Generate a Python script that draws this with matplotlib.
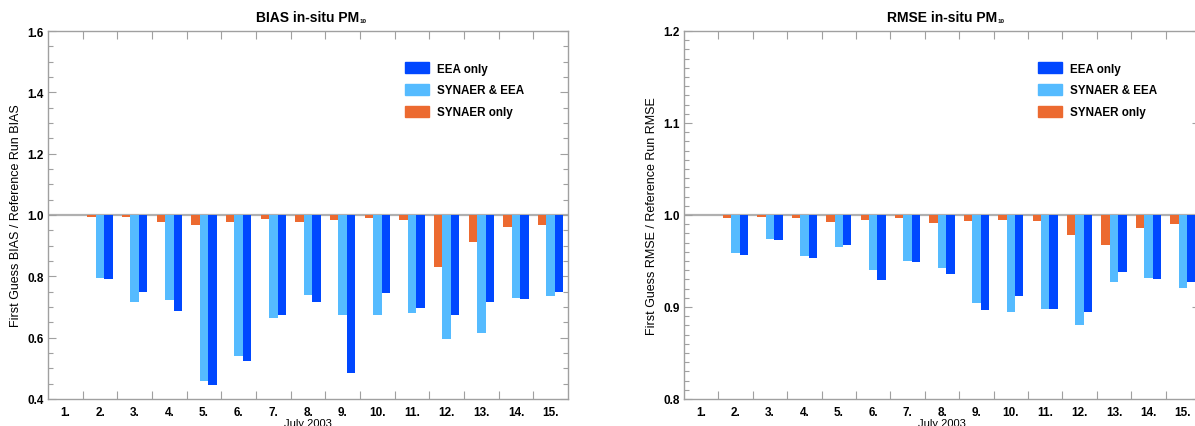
import matplotlib
matplotlib.use('Agg')
import matplotlib.pyplot as plt
import matplotlib.patches as mpatches
from matplotlib.ticker import MultipleLocator, FixedLocator
import numpy as np

plt.rcParams['font.family'] = ['Liberation Sans', 'DejaVu Sans']

days = ['1.', '2.', '3.', '4.', '5.', '6.', '7.', '8.', '9.', '10.', '11.', '12.', '13.', '14.', '15.']

# BIAS ratios (first guess / reference run)
bias_synaer = [1.0, 0.992, 0.993, 0.978, 0.968, 0.976, 0.988, 0.978, 0.985, 0.990, 0.985, 0.832, 0.911, 0.960, 0.968]
bias_both = [1.0, 0.795, 0.715, 0.724, 0.460, 0.539, 0.663, 0.740, 0.673, 0.673, 0.680, 0.596, 0.616, 0.728, 0.737]
bias_eea = [1.0, 0.790, 0.750, 0.688, 0.447, 0.525, 0.675, 0.716, 0.485, 0.747, 0.698, 0.675, 0.715, 0.726, 0.748]

# RMSE ratios
rmse_synaer = [1.0, 0.997, 0.998, 0.997, 0.992, 0.995, 0.997, 0.991, 0.993, 0.995, 0.993, 0.978, 0.967, 0.9855, 0.9905]
rmse_both = [1.0, 0.959, 0.974, 0.955, 0.965, 0.940, 0.950, 0.942, 0.904, 0.895, 0.898, 0.880, 0.927, 0.932, 0.921]
rmse_eea = [1.0, 0.957, 0.9725, 0.953, 0.967, 0.929, 0.949, 0.936, 0.897, 0.912, 0.898, 0.895, 0.938, 0.930, 0.927]

c_eea = '#0047ff'
c_both = '#55bbff'
c_syn = '#ec6a30'
grey = '#a0a0a0'

W, H = 1195, 427
fig = plt.figure(figsize=(W / 100, H / 100), dpi=100)
ax1 = fig.add_axes([48 / W, 27 / H, 520 / W, 368 / H])
ax2 = fig.add_axes([684 / W, 27 / H, 516 / W, 368 / H])

x = np.arange(1, 16)
bw = 0.245


def draw(ax, syn, both, eea, ylim, major, minor, title, ylabel):
    ax.axhline(1.0, color='#b0b0b0', lw=1.6, zorder=1)
    ax.bar(x - bw, np.array(syn) - 1.0, bw, bottom=1.0, color=c_syn, zorder=2)
    ax.bar(x, np.array(both) - 1.0, bw, bottom=1.0, color=c_both, zorder=2)
    ax.bar(x + bw, np.array(eea) - 1.0, bw, bottom=1.0, color=c_eea, zorder=2)
    ax.set_xlim(0.5, 15.5)
    ax.set_ylim(*ylim)
    ax.set_xticks(x)
    ax.set_xticklabels(days, fontsize=8.5, fontweight='bold')
    ax.xaxis.set_minor_locator(FixedLocator(np.arange(1.5, 15, 1.0)))
    ax.yaxis.set_major_locator(MultipleLocator(major))
    ax.yaxis.set_minor_locator(MultipleLocator(minor))
    ax.yaxis.set_major_formatter(matplotlib.ticker.FormatStrFormatter('%.1f'))
    for lab in ax.get_yticklabels():
        lab.set_fontsize(8.5)
        lab.set_fontweight('bold')
    ax.tick_params(axis='x', which='major', length=0, pad=5)
    ax.tick_params(axis='x', which='minor', direction='in', length=6, color=grey,
                   top=True, bottom=True, width=0.8)
    ax.tick_params(axis='y', which='major', direction='in', length=6, color=grey,
                   left=True, right=True, width=0.8, pad=3)
    ax.tick_params(axis='y', which='minor', direction='in', length=3.5, color=grey,
                   left=True, right=True, width=0.8)
    for s in ax.spines.values():
        s.set_color(grey)
        s.set_linewidth(1.0)
    t = ax.set_title(title, fontsize=10, fontweight='bold', pad=7)
    ax.set_ylabel(ylabel, fontsize=9, labelpad=4)
    ax.set_xlabel('July 2003', fontsize=8, labelpad=0)
    handles = [mpatches.Patch(color=c_eea, label='EEA only'),
               mpatches.Patch(color=c_both, label='SYNAER & EEA'),
               mpatches.Patch(color=c_syn, label='SYNAER only')]
    leg = ax.legend(handles=handles, loc='upper left', bbox_to_anchor=(0.687, 0.915),
                    frameon=False, fontsize=8.4, borderpad=0, borderaxespad=0,
                    handlelength=2.0, handleheight=1.05, labelspacing=0.8,
                    handletextpad=0.7)
    for lt in leg.get_texts():
        lt.set_fontweight('bold')
    return t


t1 = draw(ax1, bias_synaer, bias_both, bias_eea, (0.4, 1.6), 0.2, 0.05,
          'BIAS in-situ PM', 'First Guess BIAS / Reference Run BIAS')
t2 = draw(ax2, rmse_synaer, rmse_both, rmse_eea, (0.8, 1.2), 0.1, 0.01,
          'RMSE in-situ PM', 'First Guess RMSE / Reference Run RMSE')

# tiny "10" subscript after the titles, like the original
fig.canvas.draw()
r = fig.canvas.get_renderer()
for t in (t1, t2):
    bb = t.get_window_extent(r)
    fig.text((bb.x1 + 0.5) / W, (bb.y0 + 1) / H, '10', fontsize=4.5,
             fontweight='bold', ha='left', va='bottom')

fig.savefig('out.png', dpi=100)
